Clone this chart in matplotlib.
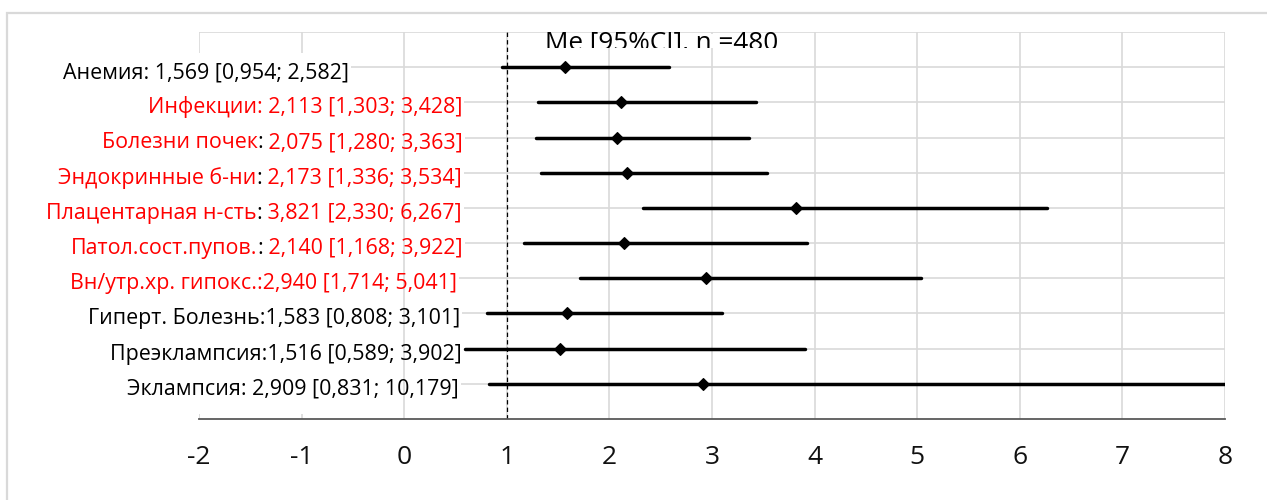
import matplotlib
matplotlib.use("Agg")
import matplotlib.pyplot as plt
from matplotlib.patches import Rectangle
from matplotlib.transforms import Bbox, TransformedBbox, IdentityTransform, offset_copy

# ---------------- data ----------------
names = ["Анемия", "Инфекции", "Болезни почек", "Эндокринные б-ни",
         "Плацентарная н-сть", "Патол.сост.пупов.", "Вн/утр.хр. гипокс.",
         "Гиперт. Болезнь", "Преэклампсия", "Эклампсия"]
median = [1.569, 2.113, 2.075, 2.173, 3.821, 2.140, 2.940, 1.583, 1.516, 2.909]
ci_low = [0.954, 1.303, 1.280, 1.336, 2.330, 1.168, 1.714, 0.808, 0.589, 0.831]
ci_high = [2.582, 3.428, 3.363, 3.534, 6.267, 3.922, 5.041, 3.101, 3.902, 10.179]
significant = [False, True, True, True, True, True, True, False, False, False]
colon_red = [False, True, False, False, False, False, True, False, False, False]
separators = [": ", ": ", ": ", ": ", ": ", ": ", ":", ":", ":", ": "]
x_ticks = [-2, -1, 0, 1, 2, 3, 4, 5, 6, 7, 8]
title = "Me [95%CI], n =480"

# ---------------- layout ----------------
W, H, DPI = 1267, 500, 100
FONT = ["Open Sans", "DejaVu Sans"]
RED = "#ff0000"
GRID = "#d9d9d9"
label_right_px = [349, 462, 463, 462, 462, 463, 457, 460, 462, 459]

fig = plt.figure(figsize=(W / DPI, H / DPI), dpi=DPI)
ax_l, ax_r, ax_t, ax_b = 199, 1225, 32, 419
ax = fig.add_axes([ax_l / W, 1 - ax_b / H, (ax_r - ax_l) / W, (ax_b - ax_t) / H])

xmin, xmax = x_ticks[0], x_ticks[-1]
n = len(names)
ax.set_xlim(xmin, xmax)
ax.set_ylim(n + 1, 0)
rows = list(range(1, n + 1))

def px_to_x(px):
    return xmin + (px - ax_l) / (ax_r - ax_l) * (xmax - xmin)

# grid (manual, partially hidden behind label boxes)
for xt in x_ticks:
    if xt < 0:
        ax.vlines(xt, 0, 0.6, color=GRID, lw=1.2, zorder=0.5)
        ax.vlines(xt, n + 0.86, n + 1, color=GRID, lw=1.2, zorder=0.5)
    else:
        ax.vlines(xt, 0, n + 1, color=GRID, lw=1.2, zorder=0.5)
ax.hlines(0, xmin, xmax, color=GRID, lw=1.2, zorder=0.5)
for r, rp in zip(rows, label_right_px):
    ax.hlines(r, px_to_x(rp + 2), xmax, color=GRID, lw=1.2, zorder=0.5)

# reference line at 1
ax.axvline(1, color="black", lw=0.9, ls=(0, (3.5, 2.5)), zorder=1)

# CI bars and medians
for r, lo, hi, me in zip(rows, ci_low, ci_high, median):
    ax.plot([lo, hi], [r, r], color="black", lw=2.5, solid_capstyle="round", zorder=3)
    ax.plot([me], [r], marker="D", ms=6.5, color="black", mew=0.8, zorder=4)

# spines / ticks
for s in ["top", "right", "left"]:
    ax.spines[s].set_visible(False)
ax.spines["bottom"].set_color("#595959")
ax.spines["bottom"].set_linewidth(1.3)
ax.set_yticks([])
ax.set_xticks(x_ticks)
ax.set_xticklabels([str(v) for v in x_ticks], family=FONT, fontsize=19, color="#111111")
ax.tick_params(axis="x", length=0, pad=19)

# labels (multi-coloured pieces, right aligned)
fig.canvas.draw()
renderer = fig.canvas.get_renderer()
for r, nm, sep, me, lo, hi, sig, cred, rp in zip(rows, names, separators, median, ci_low,
                                                 ci_high, significant, colon_red, label_right_px):
    val = f"{me:.3f} [{lo:.3f}; {hi:.3f}]".replace(".", ",")
    main_c = RED if sig else "black"
    sep_c = RED if cred else "black"
    if sep_c == main_c:
        pieces = [(nm + sep + val, main_c)]
    else:
        sep_txt = sep.strip()
        val_txt = (" " if sep.endswith(" ") else "") + val
        pieces = [(nm, main_c), (sep_txt, sep_c), (val_txt, main_c)]
    offset = 0.0
    for s, c in reversed(pieces):
        tr = offset_copy(ax.transData, fig=fig, x=-offset, y=0, units="dots")
        t = ax.text(px_to_x(rp), r + 0.31, s, color=c, ha="right", va="baseline",
                    fontsize=15.4, family=FONT, transform=tr, zorder=5)
        offset += t.get_window_extent(renderer).width

# title (partially hidden at its bottom)
tt = fig.text(662 / W, 1 - 49.5 / H, title, ha="center", va="baseline", fontsize=18.8,
              family=FONT, color="black", zorder=3)
clip = TransformedBbox(Bbox([[0, 1 - 48 / H], [1, 1]]), fig.transFigure)
tt.set_clip_box(clip)
tt.set_clip_on(True)
ext = tt.get_window_extent(renderer)
fig.add_artist(Rectangle((ext.x0 - 4, H - 48), ext.width + 8, 14, transform=IdentityTransform(),
                         facecolor="white", edgecolor="none", zorder=2))

# outer chart frame
fig.add_artist(Rectangle((7, -20), W + 20, H - 13 + 20, transform=IdentityTransform(),
                         facecolor="none", edgecolor=GRID, lw=1.6, zorder=0))

fig.savefig("out.png", dpi=DPI)
